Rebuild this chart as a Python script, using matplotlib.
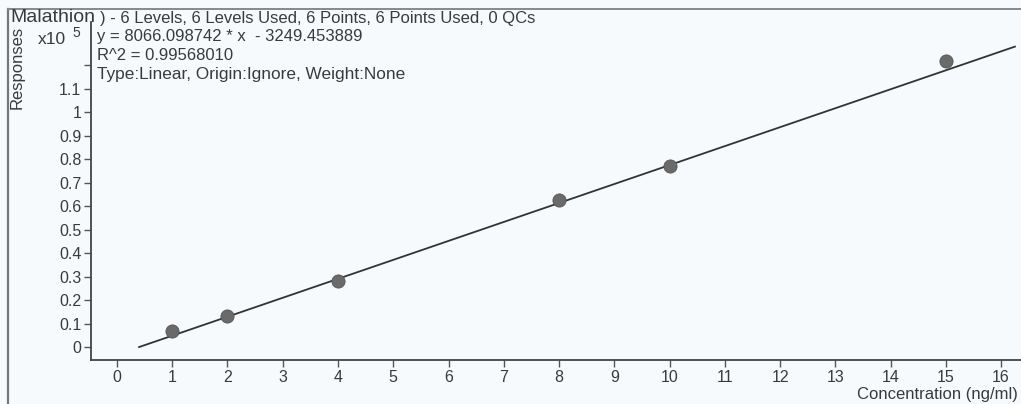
import matplotlib
matplotlib.use("Agg")
import matplotlib.pyplot as plt
import numpy as np
from matplotlib.lines import Line2D

# Calibration data
concentration = [1, 2, 4, 8, 10, 15]               # ng/ml
response = [6900, 13200, 28200, 62500, 77000, 121500]
slope = 8066.098742
intercept = -3249.453889
r_squared = 0.99568010

x_ticks = list(range(0, 17))
y_ticks = [0, 0.1, 0.2, 0.3, 0.4, 0.5, 0.6, 0.7, 0.8, 0.9, 1.0, 1.1, 1.2]
y_tick_labels = ["0", "0.1", "0.2", "0.3", "0.4", "0.5", "0.6", "0.7",
                 "0.8", "0.9", "1", "1.1", ""]
scale = 1e5

W, H = 1021, 404
bg = "#f6fafc"
ink = "#3a3a3a"
plt.rcParams["font.family"] = ["Liberation Sans", "DejaVu Sans"]

fig = plt.figure(figsize=(W / 100, H / 100), dpi=100, facecolor=bg)


def fx(px):
    return px / W


def fy(py):
    return 1 - py / H


ax = fig.add_axes([fx(91), fy(360), fx(1021) - fx(91), fy(22) - fy(360)])
ax.set_facecolor(bg)
ax.set_xlim(-0.47, 16.36)
ax.set_ylim(-0.0553, 1.383)

for side in ("top", "right"):
    ax.spines[side].set_visible(False)
for side in ("left", "bottom"):
    ax.spines[side].set_color("#444444")
    ax.spines[side].set_linewidth(1.3)

ax.set_xticks(x_ticks)
ax.set_xticklabels([str(v) for v in x_ticks])
ax.set_yticks(y_ticks)
ax.set_yticklabels(y_tick_labels)
ax.tick_params(axis="both", direction="out", colors="#555555", labelcolor=ink,
               labelsize=11.5, length=5, width=1.0, pad=2)

# Regression line
xs = np.array([0.4, 16.25])
ax.plot(xs, (slope * xs + intercept) / scale, color="#333333", lw=1.3,
        zorder=2, clip_on=False)

# Calibration points
ax.scatter(concentration, np.array(response) / scale, s=90, color="#6a6a6a",
           edgecolors="#555555", linewidths=0.6, zorder=3)

# Header and fit information
fig.text(fx(10), fy(18), "Malathion", fontsize=14, color=ink, va="center")
fig.text(fx(100), fy(18), ") - 6 Levels, 6 Levels Used, 6 Points, 6 Points Used, 0 QCs",
         fontsize=12, color=ink, va="center")
fig.text(fx(97), fy(37), f"y = {slope:.6f} * x  - {abs(intercept):.6f}",
         fontsize=12, color=ink, va="center")
fig.text(fx(97), fy(56), f"R^2 = {r_squared:.8f}", fontsize=12, color=ink, va="center")
fig.text(fx(97), fy(75), "Type:Linear, Origin:Ignore, Weight:None",
         fontsize=12.4, color=ink, va="center")

fig.text(fx(38), fy(39), "x10", fontsize=12.5, color=ink, va="center")
fig.text(fx(72), fy(33), "5", fontsize=10, color=ink, va="center")
fig.text(fx(17), fy(67), "Responses", fontsize=12, color=ink, rotation=90,
         va="center", ha="center")
fig.text(fx(1018), fy(395), "Concentration (ng/ml)", fontsize=12, color=ink,
         ha="right", va="center")

# Outer frame
fig.add_artist(Line2D([fx(8), fx(8)], [fy(9), fy(404)], color="#777777", lw=1.6))
fig.add_artist(Line2D([fx(8), fx(1021)], [fy(9), fy(9)], color="#888888", lw=1.4))

fig.savefig("out.png", dpi=100, facecolor=bg)
